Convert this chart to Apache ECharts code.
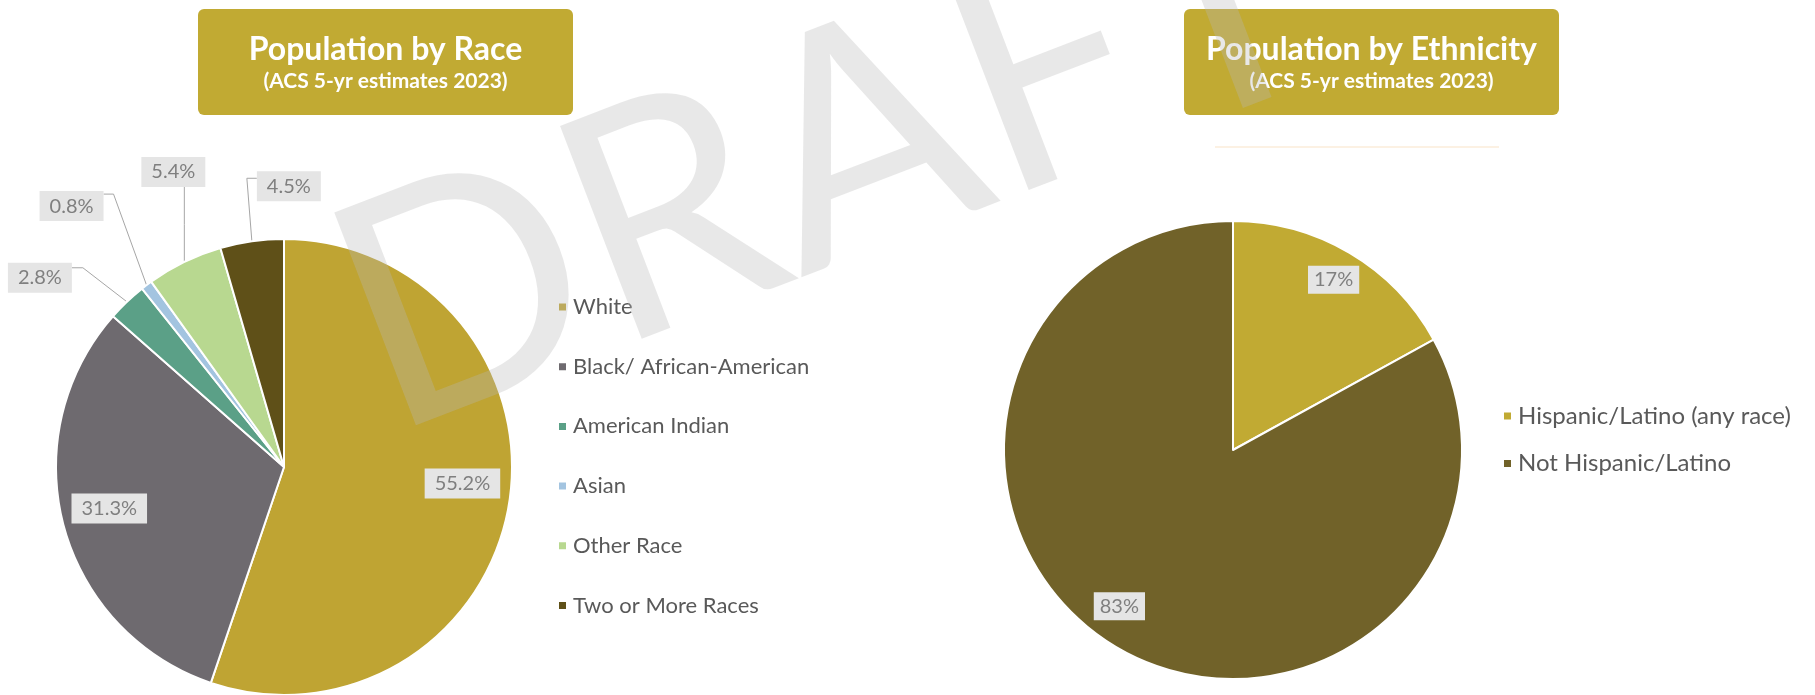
<!DOCTYPE html>
<html>
<head>
<meta charset="utf-8">
<script src="https://cdn.jsdelivr.net/npm/echarts@6/dist/echarts.min.js"></script>
<style>
  html, body { margin: 0; padding: 0; background: #ffffff; }
  #chart { width: 1815px; height: 695px; }
</style>
</head>
<body>
<div id="chart"></div>
<script>
// Race breakdown (percent of population)
const raceCategories = ['White', 'Black/ African-American', 'American Indian', 'Asian', 'Other Race', 'Two or More Races'];
const raceValues = [55.2, 31.3, 2.8, 0.8, 5.4, 4.5];

// Ethnicity breakdown (percent of population)
const ethnicityCategories = ['Hispanic/Latino (any race)', 'Not Hispanic/Latino'];
const ethnicityValues = [17, 83];

// Panel headings
const panelTitles = ['Population by Race', 'Population by Ethnicity'];
const panelSubtitle = '(ACS 5-yr estimates 2023)';

// Styling
const raceColors = ['#BFA433', '#6E6A6F', '#5BA087', '#A3C4E0', '#B8D890', '#5F5018'];
const ethnicityColors = ['#C1AA33', '#716229'];
const headerFill = '#C1AA33';
const labelBox = {
  fontFamily: 'Lato', fontSize: 20, color: '#7F7F7F',
  backgroundColor: '#E5E5E5', lineHeight: 20
};

// Geometry of the two pies
const racePie = { center: [284, 467], r: 228 };
const ethPie = { center: [1233, 450], r: 229 };

// Leader-line shapes for the thin race slices, offsets from the slice edge
const leaderShapes = {
  'American Indian':   { elbow: [-44, -34], gap: -11, lift: 10, align: 'right' },
  'Asian':             { elbow: [-33, -91], gap: -10, lift: 12, align: 'right' },
  'Other Race':        { elbow: [0, -75], vertical: true, shift: -11 },
  'Two or More Races': { elbow: [-5, -63], gap: 10, lift: 8, align: 'left' }
};
// Small nudges for labels sitting inside their slice
const insideNudges = {
  'White': [0, -13],
  'Black/ African-American': [0, -5],
  'Not Hispanic/Latino': [-13, -14]
};

function nudgeLayout(names) {
  return function (p) {
    const n = insideNudges[names[p.dataIndex]];
    return n ? { dx: n[0], dy: n[1] } : {};
  };
}

function raceLabelLayout(p) {
  const shape = leaderShapes[raceCategories[p.dataIndex]];
  if (!shape || !p.labelLinePoints) return nudgeLayout(raceCategories)(p);
  const p0 = p.labelLinePoints[0];
  const e = [p0[0] + shape.elbow[0], p0[1] + shape.elbow[1]];
  if (shape.vertical) {
    return {
      x: e[0] + shape.shift, y: e[1], align: 'center', verticalAlign: 'bottom',
      labelLinePoints: [p0, [p0[0], (p0[1] + e[1]) / 2], e]
    };
  }
  const end = [e[0] + shape.gap, e[1]];
  return {
    x: end[0], y: e[1] + shape.lift, align: shape.align, verticalAlign: 'middle',
    labelLinePoints: [p0, e, end]
  };
}

const raceSlices = raceCategories.map((name, i) => ({
  name, value: raceValues[i], itemStyle: { color: raceColors[i] }
}));
const raceLabels = raceCategories.map((name, i) => {
  const outside = !!leaderShapes[name];
  return {
    name, value: raceValues[i],
    label: { position: outside ? 'outside' : 'inside' },
    labelLine: { show: outside }
  };
});
const ethSlices = ethnicityCategories.map((name, i) => ({
  name, value: ethnicityValues[i], itemStyle: { color: ethnicityColors[i] }
}));
const ethLabels = ethnicityCategories.map((name, i) => ({
  name, value: ethnicityValues[i], label: { position: 'inside' }, labelLine: { show: false }
}));

const slicePie = (geo, data) => ({
  type: 'pie', center: geo.center, radius: [0, geo.r],
  startAngle: 90, clockwise: true, silent: true, animation: false,
  avoidLabelOverlap: false,
  itemStyle: { borderColor: '#ffffff', borderWidth: 2 },
  label: { show: false }, labelLine: { show: false },
  data
});

// Transparent ring used only to carry the value labels
const labelRing = (geo, innerRatio, data, layout, padding) => ({
  type: 'pie', center: geo.center, radius: [geo.r * innerRatio, geo.r],
  startAngle: 90, clockwise: true, silent: true, animation: false,
  avoidLabelOverlap: false,
  itemStyle: { color: 'rgba(0,0,0,0)', borderWidth: 0 },
  label: Object.assign({ show: true, formatter: '{c}%', padding }, labelBox),
  labelLine: { length: 20, length2: 10, smooth: false, lineStyle: { color: '#A6A6A6', width: 1 } },
  labelLayout: layout,
  data
});

function header(cx, left, title) {
  return {
    type: 'group', children: [
      { type: 'rect', shape: { x: left, y: 9, width: 375, height: 106, r: 6 }, style: { fill: headerFill } },
      { type: 'text', x: cx, y: 50, style: { text: title, font: 'bold 32px Lato', fill: '#ffffff', align: 'center', verticalAlign: 'middle' } },
      { type: 'text', x: cx, y: 81, style: { text: panelSubtitle, font: 'bold 21px Lato', fill: '#ffffff', align: 'center', verticalAlign: 'middle' } }
    ]
  };
}

const raceLegendText = { fontFamily: 'Lato', fontSize: 22, color: '#595959', lineHeight: 24, padding: [0, 0, 0, 1] };
const ethLegendText = { fontFamily: 'Lato', fontSize: 24, color: '#595959', lineHeight: 26, padding: [0, 0, 0, 1] };

const chart = echarts.init(document.getElementById('chart'), null, { renderer: 'canvas' });
chart.setOption({
  backgroundColor: '#ffffff',
  animation: false,
  legend: [
    {
      data: raceCategories, orient: 'vertical', left: 552, top: 290,
      icon: 'rect', itemWidth: 9, itemHeight: 9, itemGap: 35.7,
      selectedMode: false, textStyle: raceLegendText
    },
    {
      data: ethnicityCategories, orient: 'vertical', left: 1497, top: 398,
      icon: 'rect', itemWidth: 9, itemHeight: 9, itemGap: 21.5,
      selectedMode: false, textStyle: ethLegendText
    }
  ],
  series: [
    slicePie(racePie, raceSlices),
    labelRing(racePie, 0.56, raceLabels, raceLabelLayout, [5, 10]),
    slicePie(ethPie, ethSlices),
    labelRing(ethPie, 0.70, ethLabels, nudgeLayout(ethnicityCategories), [4, 6])
  ],
  graphic: [
    header(385.5, 198, panelTitles[0]),
    header(1371.5, 1184, panelTitles[1]),
    { type: 'rect', shape: { x: 1215, y: 146, width: 284, height: 2 }, style: { fill: '#FCF1E3' }, silent: true },
    {
      type: 'text', x: 352, y: 340, rotation: 21 * Math.PI / 180, z: 100, silent: true,
      style: { text: 'DRAFT', font: '400 318px Lato', fill: 'rgba(185,185,185,0.32)', align: 'left', verticalAlign: 'middle' }
    }
  ]
});
</script>
</body>
</html>
